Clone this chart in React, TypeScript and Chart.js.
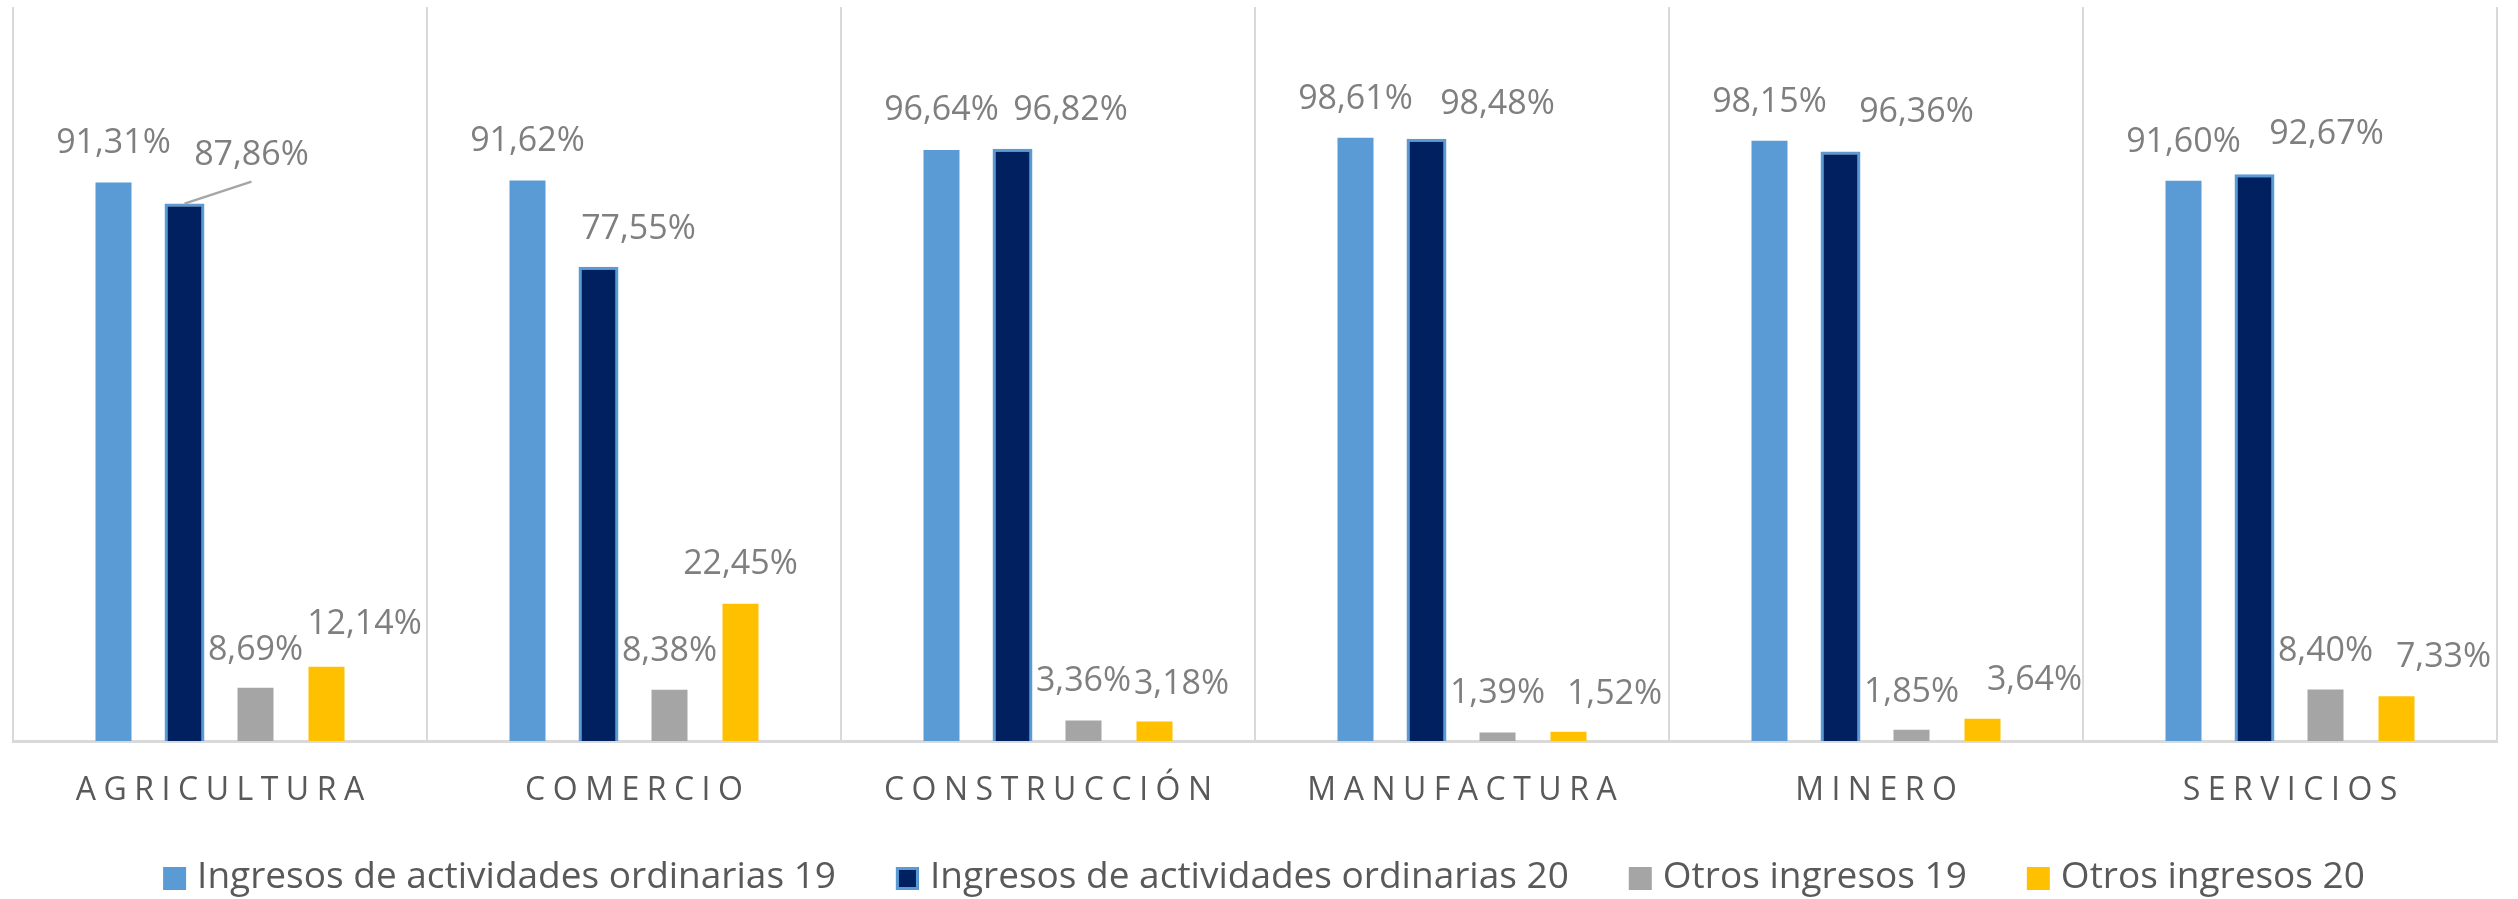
import React, { useEffect, useRef } from "react";
import { Chart, registerables } from "chart.js";

Chart.register(...registerables);

const categories = ["AGRICULTURA", "COMERCIO", "CONSTRUCCIÓN", "MANUFACTURA", "MINERO", "SERVICIOS"];
const seriesNames = [
  "Ingresos de actividades ordinarias 19",
  "Ingresos de actividades ordinarias 20",
  "Otros ingresos 19",
  "Otros ingresos 20",
];
const ordinarias19 = [91.31, 91.62, 96.64, 98.61, 98.15, 91.6];
const ordinarias20 = [87.86, 77.55, 96.82, 98.48, 96.36, 92.67];
const otros19 = [8.69, 8.38, 3.36, 1.39, 1.85, 8.4];
const otros20 = [12.14, 22.45, 3.18, 1.52, 3.64, 7.33];

// manual label offsets (px), like moved Excel data labels
const labelDx = [
  [0, 0, 0, 0, 0, 0],
  [67, 40, 58, 71, 76, 72],
  [0, 0, 0, 0, 0, 0],
  [38, 0, 27, 46, 52, 47],
];
const labelDy = [
  [41, 42, 42, 41, 41, 41],
  [51, 40, 41, 37, 42, 42],
  [40, 41, 41, 41, 40, 41],
  [45, 42, 40, 40, 41, 41],
];
const leaderLines = [[1, 0]];

const colors = ["#5B9BD5", "#002060", "#A5A5A5", "#FFC000"];
const BORDER_BLUE = "#5B9BD5";

const fmt = (v: number) => v.toFixed(2).replace(".", ",") + "%";

const overlayPlugin = {
  id: "overlay",
  afterDatasetsDraw(chart: any) {
    const ctx = chart.ctx;
    ctx.save();
    // leader lines
    ctx.strokeStyle = "#A6A6A6";
    ctx.lineWidth = 2.5;
    leaderLines.forEach(([di, i]) => {
      const bar = chart.getDatasetMeta(di).data[i];
      const lx = bar.x + labelDx[di][i];
      const ly = bar.y - labelDy[di][i] + 29;
      ctx.beginPath();
      ctx.moveTo(bar.x, bar.y);
      ctx.lineTo(lx, ly);
      ctx.stroke();
    });
    // data labels
    ctx.font = '34px "Open Sans"';
    ctx.fillStyle = "#7F7F7F";
    ctx.textAlign = "center";
    ctx.textBaseline = "alphabetic";
    chart.data.datasets.forEach((ds: any, di: number) => {
      const meta = chart.getDatasetMeta(di);
      meta.data.forEach((bar: any, i: number) => {
        const x = bar.x + labelDx[di][i];
        const cy = bar.y - labelDy[di][i];
        ctx.fillText(fmt(ds.data[i]), x, cy + 12);
      });
    });
    ctx.restore();
  },
  afterDraw(chart: any) {
    const ctx = chart.ctx;
    const xScale = chart.scales.x;
    const area = chart.chartArea;
    ctx.save();
    // category labels with letter spacing
    ctx.font = '32px "Open Sans"';
    ctx.fillStyle = "#595959";
    ctx.textAlign = "left";
    ctx.textBaseline = "alphabetic";
    const spacing = 7.5;
    categories.forEach((label, i) => {
      const cx = xScale.getPixelForValue(i);
      const chars = Array.from(label);
      const widths = chars.map((c) => ctx.measureText(c).width);
      const total = widths.reduce((a, b) => a + b, 0) + spacing * (chars.length - 1);
      let x = cx - total / 2;
      chars.forEach((c, k) => {
        ctx.fillText(c, x, area.bottom + 59);
        x += widths[k] + spacing;
      });
    });
    // legend
    ctx.font = '37px "Open Sans"';
    const box = 23;
    const gap = 11;
    const itemGap = 60;
    const textW = seriesNames.map((s) => ctx.measureText(s).width);
    const total = textW.reduce((a, b) => a + b, 0) + seriesNames.length * (box + gap) + itemGap * (seriesNames.length - 1);
    let x = chart.width / 2 + 5 - total / 2;
    const baseline = chart.height - 11;
    seriesNames.forEach((name, i) => {
      const top = baseline - 21;
      ctx.fillStyle = colors[i];
      ctx.fillRect(x, top, box, box);
      if (i === 1) {
        ctx.strokeStyle = BORDER_BLUE;
        ctx.lineWidth = 3;
        ctx.strokeRect(x + 1.5, top + 1.5, box - 3, box - 3);
      }
      ctx.fillStyle = "#595959";
      ctx.fillText(name, x + box + gap, baseline);
      x += box + gap + textW[i] + itemGap;
    });
    ctx.restore();
  },
};

export default function App() {
  const canvasRef = useRef<HTMLCanvasElement | null>(null);

  useEffect(() => {
    const canvas = canvasRef.current;
    if (!canvas) return;
    const series = [ordinarias19, ordinarias20, otros19, otros20];
    const chart = new Chart(canvas, {
      type: "bar",
      data: {
        labels: categories,
        datasets: series.map((data, i) => ({
          label: seriesNames[i],
          data,
          backgroundColor: colors[i],
          borderColor: i === 1 ? BORDER_BLUE : colors[i],
          borderWidth: i === 1 ? 3 : 0,
          barPercentage: i === 1 ? 0.563 : 0.507,
          categoryPercentage: 0.686,
        })),
      },
      options: {
        responsive: false,
        animation: false,
        devicePixelRatio: 1,
        layout: { padding: { left: 13, right: 21, top: 7, bottom: 158 } },
        plugins: {
          legend: { display: false },
          tooltip: { enabled: false },
        },
        scales: {
          x: {
            display: true,
            offset: true,
            ticks: { display: false },
            grid: {
              display: true,
              offset: true,
              drawTicks: false,
              color: "#D9D9D9",
              lineWidth: 2,
            },
            border: { display: true, color: "#D9D9D9", width: 3 },
          },
          y: {
            display: false,
            min: 0,
            max: 120,
          },
        },
      },
      plugins: [overlayPlugin],
    });
    return () => chart.destroy();
  }, []);

  return (
    <div style={{ position: "fixed", left: 0, top: 0, width: 2518, height: 899, background: "#fff" }}>
      <canvas ref={canvasRef} width={2518} height={899} style={{ display: "block" }} />
    </div>
  );
}
